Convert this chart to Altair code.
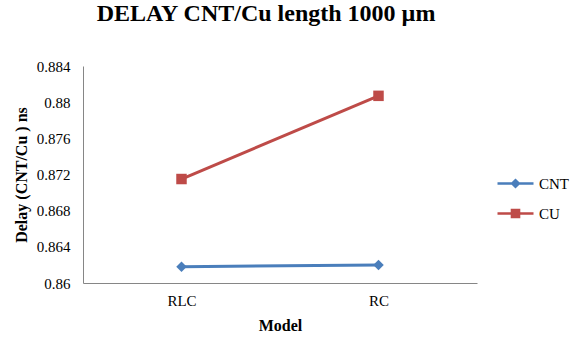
import altair as alt
import pandas as pd

models = ["RLC", "RC"]
cnt = [0.8618, 0.8620]
cu = [0.8715, 0.8807]
series_names = ["CNT", "CU"]
y_ticks = [0.86, 0.864, 0.868, 0.872, 0.876, 0.88, 0.884]

rows = []
for m, v in zip(models, cnt):
    rows.append({"Model": m, "Delay": v, "Series": "CNT"})
for m, v in zip(models, cu):
    rows.append({"Model": m, "Delay": v, "Series": "CU"})
df = pd.DataFrame(rows)

colors = ["#4A7EBB", "#BE4B48"]
font = "Liberation Serif"

x = alt.X("Model:N", sort=models, scale=alt.Scale(type="point", padding=0.5),
          axis=alt.Axis(title="Model", labelAngle=0, ticks=False, domainColor="#868686",
                        labelFont=font, labelFontSize=15, labelColor="#000", labelPadding=10,
                        titleFont=font, titleFontSize=16, titleFontWeight="bold", titleColor="#000",
                        titlePadding=9))
y = alt.Y("Delay:Q", scale=alt.Scale(domain=[0.86, 0.884], zero=False, nice=False),
          axis=alt.Axis(title="Delay (CNT/Cu ) ns", values=y_ticks, format="~g", ticks=False,
                        grid=False, domainColor="#868686", labelFont=font, labelFontSize=15,
                        labelColor="#000", labelPadding=13,
                        titleFont=font, titleFontSize=16, titleFontWeight="bold", titleColor="#000",
                        titlePadding=7))
color = alt.Color("Series:N", scale=alt.Scale(domain=series_names, range=colors), legend=None)

base = alt.Chart(df)
lines = base.mark_line(strokeWidth=3).encode(x=x, y=y, color=color, detail="Series:N")
points = base.mark_point(filled=True, opacity=1, size=110).encode(
    x=x, y=y, color=color,
    shape=alt.Shape("Series:N", scale=alt.Scale(domain=series_names, range=["diamond", "square"]), legend=None))

cnt_path = "M-3,-0.22H3V0.22H-3Z M0,-0.85L0.85,0L0,0.85L-0.85,0Z"
cu_path = "M-3,-0.22H3V0.22H-3Z M-0.8,-0.8H0.8V0.8H-0.8Z"
leg = alt.Legend(title=None, orient="none", legendX=425, legendY=110,
                 symbolOpacity=1, symbolSize=144, symbolStrokeWidth=0,
                 labelFont=font, labelFontSize=15, labelColor="#000",
                 labelOffset=16, rowPadding=14)
legend_layer = base.mark_point(filled=True, opacity=0, size=144).encode(
    x=x, y=y,
    color=alt.Color("Series:N", scale=alt.Scale(domain=series_names, range=colors), legend=leg),
    shape=alt.Shape("Series:N", scale=alt.Scale(domain=series_names, range=[cnt_path, cu_path]), legend=leg),
)

chart = alt.layer(lines, points, legend_layer).resolve_scale(
    shape="independent", color="independent"
).properties(
    width=394, height=217,
    autosize=alt.AutoSizeParams(type="none"),
    padding={"left": 83, "top": 66, "right": 94, "bottom": 55},
    title=alt.TitleParams("DELAY CNT/Cu length 1000 µm", font=font, fontSize=24, fontWeight="bold",
                          color="#000", anchor="middle", offset=33, dx=-14),
).configure(
    font=font,
    style={"guide-label": {"font": font, "fontSize": 15, "fill": "#000"},
           "guide-title": {"font": font}},
).configure_view(stroke=None)

chart.save("out.html", embed_options={"renderer": "svg", "actions": False})
